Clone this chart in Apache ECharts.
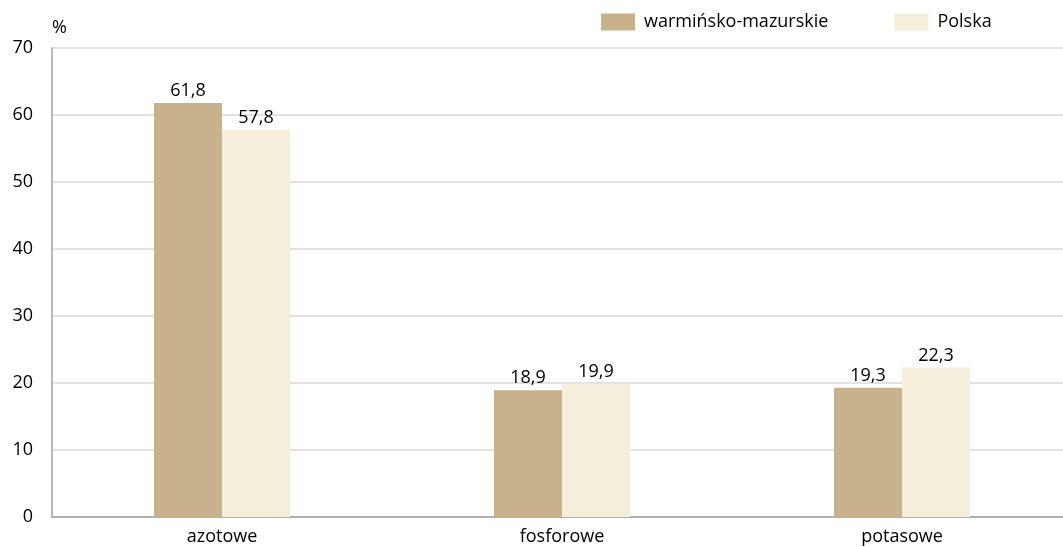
<!DOCTYPE html>
<html><head><meta charset="utf-8">
<script src="https://cdn.jsdelivr.net/npm/echarts@6/dist/echarts.min.js"></script>
<style>html,body{margin:0;padding:0;background:#fff;overflow:hidden}#c{width:1072px;height:547px}</style>
</head><body><div id="c"></div>
<script>
const categories = ['azotowe', 'fosforowe', 'potasowe'];
const seriesNames = ['warmińsko-mazurskie', 'Polska'];
const regionValues = [61.8, 18.9, 19.3];
const polandValues = [57.8, 19.9, 22.3];
const yTicks = [0, 10, 20, 30, 40, 50, 60, 70];

const font = '"Open Sans", "Noto Sans", sans-serif';
const chart = echarts.init(document.getElementById('c'));
const fmt = p => String(p.value.toFixed(1)).replace('.', ',');
chart.setOption({
  animation: false,
  textStyle: { fontFamily: font },
  legend: {
    top: 8, left: 596, itemGap: 66, itemWidth: 34, itemHeight: 17, icon: 'rect',
    textStyle: { fontSize: 18, color: '#000', fontFamily: font, padding: [0, 0, 0, 4] },
    data: seriesNames
  },
  grid: { left: 52, top: 48, bottom: 30, right: 0 },
  xAxis: {
    type: 'category', data: categories,
    axisLine: { lineStyle: { color: '#A0A0A0', width: 1.5 } },
    axisTick: { show: false },
    axisLabel: { fontSize: 18, color: '#000', margin: 11 }
  },
  yAxis: {
    type: 'value', min: yTicks[0], max: yTicks[yTicks.length - 1], interval: 10,
    name: '%', nameLocation: 'end', nameGap: 11,
    nameTextStyle: { fontSize: 18, color: '#000', align: 'left', padding: [0, 0, 0, 0] },
    axisLine: { show: true, lineStyle: { color: '#A0A0A0', width: 1.5 } },
    axisTick: { show: false },
    splitLine: { lineStyle: { color: '#D9D9D9', width: 1.5 } },
    axisLabel: { fontSize: 18, color: '#000', margin: 19 }
  },
  series: [
    { name: seriesNames[0], type: 'bar', data: regionValues, barWidth: '20%', barGap: '0%',
      itemStyle: { color: '#C8B28C' },
      label: { show: true, position: 'top', fontSize: 18, color: '#000', formatter: fmt, distance: 3 } },
    { name: seriesNames[1], type: 'bar', data: polandValues, barWidth: '20%', barGap: '0%',
      itemStyle: { color: '#F5EEDB' },
      label: { show: true, position: 'top', fontSize: 18, color: '#000', formatter: fmt, distance: 3 } }
  ]
});
</script></body></html>
